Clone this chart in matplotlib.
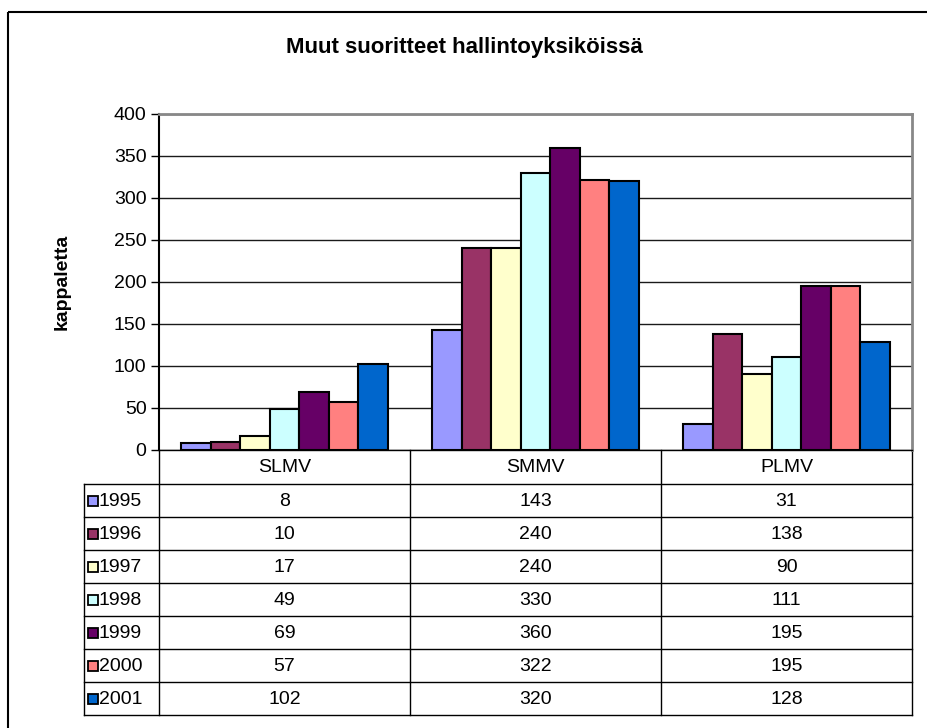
import matplotlib
matplotlib.use('Agg')
import matplotlib.pyplot as plt
from matplotlib.patches import Rectangle
import numpy as np

plt.rcParams['font.family'] = ['Liberation Sans', 'DejaVu Sans']

title = 'Muut suoritteet hallintoyksiköissä'
ylabel = 'kappaletta'
categories = ['SLMV', 'SMMV', 'PLMV']
years = ['1995', '1996', '1997', '1998', '1999', '2000', '2001']
v1995 = [8, 143, 31]
v1996 = [10, 240, 138]
v1997 = [17, 240, 90]
v1998 = [49, 330, 111]
v1999 = [69, 360, 195]
v2000 = [57, 322, 195]
v2001 = [102, 320, 128]
series = [v1995, v1996, v1997, v1998, v1999, v2000, v2001]
colors = ['#9999FF', '#993366', '#FFFFCC', '#CCFFFF', '#660066', '#FF8080', '#0066CC']
yticks = [0, 50, 100, 150, 200, 250, 300, 350, 400]

FS = 14
W, H = 927, 728
fig = plt.figure(figsize=(W / 100, H / 100), dpi=100)


def fx(px):
    return px / W


def fy(py):
    return 1 - py / H


# overlay axes in pixel coordinates for frame and table
tax = fig.add_axes([0, 0, 1, 1])
tax.set_xlim(0, W)
tax.set_ylim(H, 0)
tax.axis('off')
tax.add_patch(Rectangle((8, 12), 1000, 1000, fill=False, edgecolor='black', linewidth=1.5))

L, R, T, B = 159, 912, 114, 450
ax = fig.add_axes([fx(L), fy(B), (R - L) / W, (B - T) / H])
ax.set_xlim(0, len(categories))
ax.set_ylim(0, 400)
n = len(series)
bw = 1 / (n + 1.5)
base = np.arange(len(categories))
for i, vals in enumerate(series):
    ax.bar(base + 0.75 * bw + i * bw, vals, width=bw, align='edge', color=colors[i],
           edgecolor='black', linewidth=1.5, zorder=3)
ax.set_yticks(yticks)
ax.set_yticklabels([str(t) for t in yticks], fontsize=FS)
ax.yaxis.grid(True, color='#1a1a1a', linewidth=1.0)
ax.set_axisbelow(True)
ax.set_xticks([])
ax.tick_params(axis='y', length=6, width=1, direction='out', pad=3, color='black')
ax.spines['left'].set_color('black')
ax.spines['left'].set_linewidth(1.5)
ax.spines['bottom'].set_color('black')
ax.spines['bottom'].set_linewidth(1)
for s in ['top', 'right']:
    ax.spines[s].set_color('#888888')
    ax.spines[s].set_linewidth(2)
ax.patch.set_alpha(0)

fig.text(fx(464), fy(47), title, ha='center', va='center', fontsize=16, fontweight='bold')
fig.text(fx(62), fy(282), ylabel, ha='center', va='center', rotation=90, fontsize=FS,
         fontweight='bold')

# data table
TL = 84
row0 = 484
rh = 33
nrows = len(years)
bottom = row0 + rh * nrows
colx = [L + (R - L) * k / len(categories) for k in range(len(categories) + 1)]
lc = '#000000'
tax.plot([TL, R], [row0, row0], color=lc, lw=1)
for r in range(1, nrows + 1):
    tax.plot([TL, R], [row0 + rh * r, row0 + rh * r], color=lc, lw=1)
tax.plot([TL, TL], [row0, bottom], color=lc, lw=1)
for k, x in enumerate(colx):
    tax.plot([x, x], [B, bottom], color=lc, lw=1)
for k, c in enumerate(categories):
    tax.text((colx[k] + colx[k + 1]) / 2, (B + row0) / 2 + 1, c, ha='center', va='center',
             fontsize=FS)
for r, (yr, vals) in enumerate(zip(years, series)):
    cy = row0 + rh * r + rh / 2 + 1
    tax.add_patch(Rectangle((88, cy - 5.5), 10, 10, facecolor=colors[r], edgecolor='black',
                            linewidth=1.3))
    tax.text(99, cy, yr, ha='left', va='center', fontsize=FS)
    for k, v in enumerate(vals):
        tax.text((colx[k] + colx[k + 1]) / 2, cy, str(v), ha='center', va='center',
                 fontsize=FS)

fig.savefig('out.png', dpi=100)
